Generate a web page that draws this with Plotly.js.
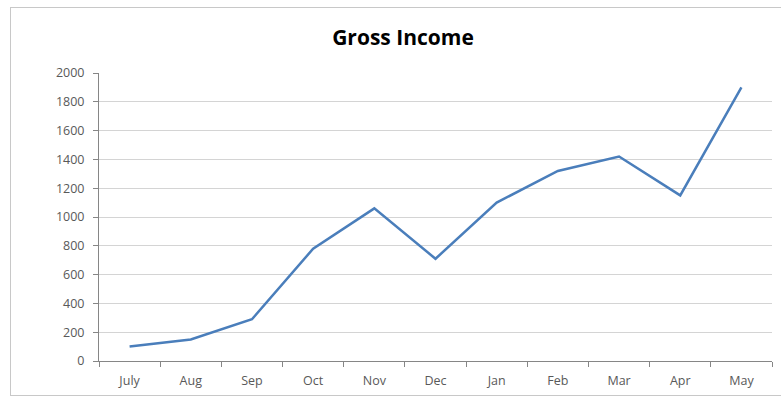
<!DOCTYPE html>
<html>
<head>
<meta charset="utf-8">
<script src="https://cdn.plot.ly/plotly-3.0.1.min.js"></script>
<style>
html,body{margin:0;padding:0;background:#fff;}
#wrap{position:relative;width:781px;height:398px;}
#chart{position:absolute;left:0;top:0;width:781px;height:398px;}
#frame{position:absolute;left:10px;top:7px;width:790px;height:387px;border:1px solid #c8c8c8;pointer-events:none;}
</style>
</head>
<body>
<div id="wrap">
<div id="chart"></div>
<div id="frame"></div>
</div>
<script>
const months = ["July","Aug","Sep","Oct","Nov","Dec","Jan","Feb","Mar","Apr","May"];
const grossIncome = [100,150,290,780,1060,710,1100,1320,1420,1150,1900];
const yTicks = [0,200,400,600,800,1000,1200,1400,1600,1800,2000];

const trace = {
  x: months,
  y: grossIncome,
  type: "scatter",
  mode: "lines",
  line: {color: "#4a7ebb", width: 2.5},
  hoverinfo: "x+y"
};

const tickFont = {family: "Open Sans, Liberation Sans, sans-serif", size: 12.5, color: "#595959"};

const layout = {
  width: 781,
  height: 398,
  margin: {l: 99, r: 9, t: 73, b: 37},
  paper_bgcolor: "rgba(0,0,0,0)",
  plot_bgcolor: "#fff",
  showlegend: false,
  title: {
    text: "<b>Gross Income</b>",
    x: 0.516, xanchor: "center",
    y: 0.905, yanchor: "middle",
    font: {family: "Open Sans, Liberation Sans, sans-serif", size: 21, color: "#000"}
  },
  xaxis: {
    type: "category",
    tickson: "boundaries",
    ticks: "outside",
    ticklen: 5,
    tickcolor: "#868686",
    showline: true,
    linecolor: "#868686",
    linewidth: 1,
    showgrid: false,
    zeroline: false,
    range: [-0.5, 10.5],
    ticklabelstandoff: 8,
    tickfont: tickFont,
    fixedrange: true
  },
  yaxis: {
    range: [0, 2000],
    tickvals: yTicks,
    ticktext: yTicks.map(String),
    ticks: "outside",
    ticklen: 5,
    tickcolor: "#868686",
    showline: true,
    linecolor: "#868686",
    linewidth: 1,
    showgrid: true,
    gridcolor: "#d4d4d4",
    gridwidth: 1,
    zeroline: false,
    ticklabelstandoff: 6,
    tickfont: tickFont,
    fixedrange: true
  }
};

Plotly.newPlot("chart", [trace], layout, {displayModeBar: false, staticPlot: true});
</script>
</body>
</html>
